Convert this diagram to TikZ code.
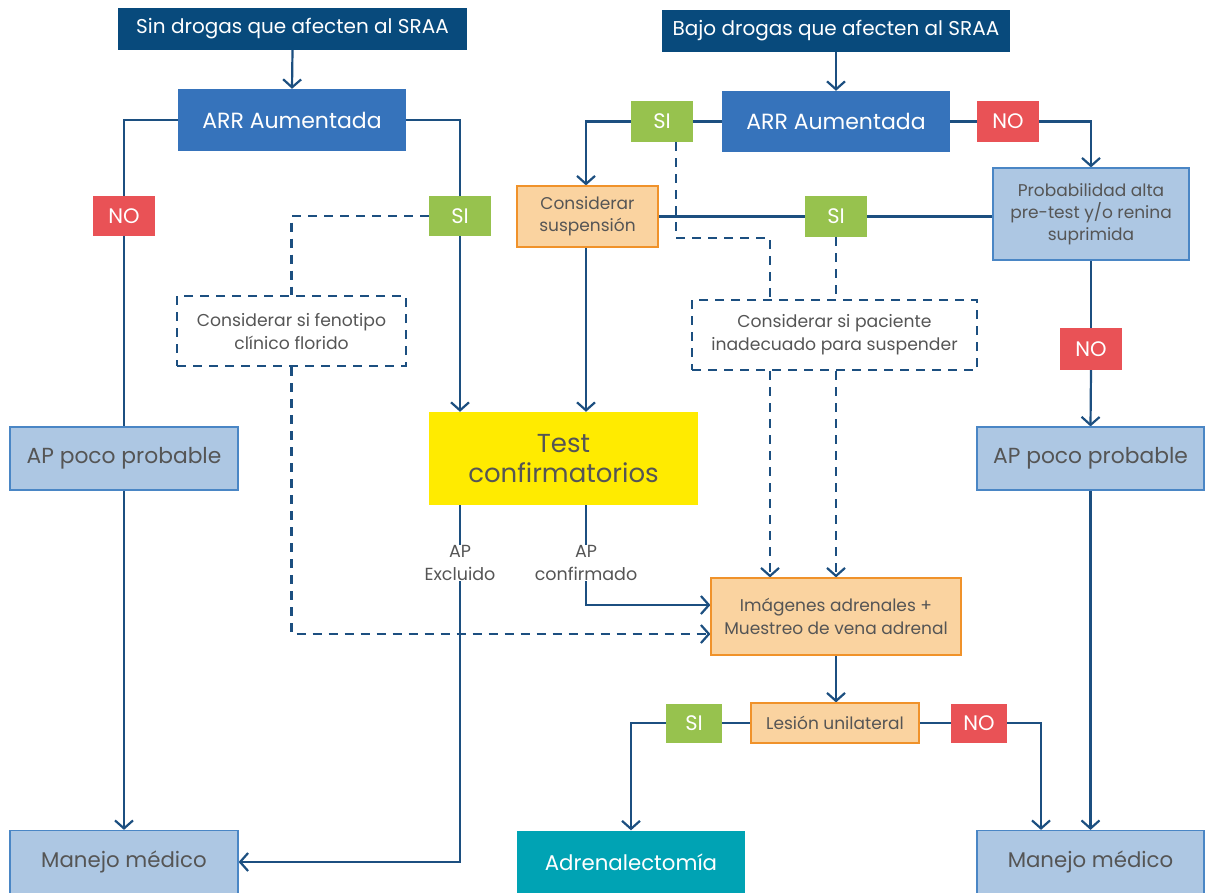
\documentclass[tikz,border=0pt]{standalone}
\usepackage{fontspec}
\setmainfont{Poppins}
\usetikzlibrary{arrows.meta,calc}
\pgfdeclarelayer{bg}
\pgfsetlayers{bg,main}
\definecolor{hdr}{RGB}{8,74,124}
\definecolor{arrblue}{RGB}{54,115,187}
\definecolor{sigreen}{RGB}{151,194,78}
\definecolor{nored}{RGB}{233,82,86}
\definecolor{lbfill}{RGB}{173,199,227}
\definecolor{lbdraw}{RGB}{74,134,197}
\definecolor{orfill}{RGB}{250,211,160}
\definecolor{ordraw}{RGB}{240,146,42}
\definecolor{yel}{RGB}{255,235,0}
\definecolor{teal2}{RGB}{0,163,180}
\definecolor{ln}{RGB}{28,79,128}
\definecolor{txt}{RGB}{85,85,85}
\newcommand{\fsz}[2]{\fontsize{#1}{#2}\selectfont}
\begin{document}
\begin{tikzpicture}[x=1pt,y=-1pt,
  base/.style={inner sep=0pt, align=center},
  hdrbox/.style={base, fill=hdr, text=white, minimum width=349, minimum height=42, font=\fsz{20}{23}},
  arrbox/.style={base, fill=arrblue, text=white, minimum width=228, minimum height=62, font=\fsz{22}{25}},
  sibox/.style={base, fill=sigreen, text=white, minimum width=62, minimum height=41, font=\fsz{21}{23}},
  nobox/.style={base, fill=nored, text=white, minimum width=62, minimum height=41, font=\fsz{21}{23}},
  lbbox/.style={base, fill=lbfill, draw=lbdraw, line width=1.2pt, text=txt},
  orbox/.style={base, fill=orfill, draw=ordraw, line width=1.2pt, text=txt},
  dbox/.style={base, draw=ln, line width=2.2pt, dash pattern=on 9pt off 7pt, text=txt, font=\fsz{17.2}{23}},
  lbl/.style={base, fill=white, text=txt, font=\fsz{17.5}{23}},
  con/.style={draw=ln, line width=2.2pt},
  dcon/.style={con, dash pattern=on 9pt off 7pt},
  arw/.style={-{Straight Barb[length=8pt,width=18pt,line width=2.2pt]}}
]
\useasboundingbox (0,0) rectangle (1205,892);
% nodes
\node[hdrbox] (h1) at (292.5,29) {Sin drogas que afecten al SRAA};
\node[hdrbox, minimum width=348] (h2) at (836,31) {Bajo drogas que afecten al SRAA};
\node[arrbox] (arrL) at (292,120) {ARR Aumentada};
\node[arrbox, minimum height=61] (arrR) at (836,121.5) {ARR Aumentada};
\node[sibox] (siR) at (662,121.5) {SI};
\node[nobox] (noR) at (1008,121.5) {NO};
\node[nobox, minimum height=40] (noL) at (124,216) {NO};
\node[sibox, minimum height=40] (siL) at (460,216) {SI};
\node[orbox, minimum width=141, minimum height=61, font=\fsz{17}{22}] (cons) at (587.5,216.5) {Considerar\\suspensión};
\node[sibox] (siM) at (836,216.5) {SI};
\node[lbbox, minimum width=196, minimum height=92, font=\fsz{17}{22}] (prob) at (1091,214) {Probabilidad alta\\pre-test y/o renina\\suprimida};
\node[dbox, minimum width=229, minimum height=70] (dashL) at (291.5,331) {Considerar si fenotipo\\clínico florido};
\node[dbox, minimum width=285, minimum height=70] (dashR) at (834.5,335) {Considerar si paciente\\inadecuado para suspender};
\node[nobox, minimum height=42] (noR2) at (1091,349) {NO};
\node[lbbox, minimum width=228, minimum height=63, font=\fsz{21.8}{25}] (apL) at (124,458.5) {AP poco probable};
\node[base, fill=yel, text=txt, minimum width=269, minimum height=93, font=\fsz{26}{30}] (test) at (563.5,458.5) {Test\\confirmatorios};
\node[lbbox, minimum width=227, minimum height=63, font=\fsz{21.8}{25}] (apR) at (1090.5,458.5) {AP poco probable};
\node[lbl] (lex) at (460,563) {AP\\Excluido};
\node[lbl] (lconf) at (586,563) {AP\\confirmado};
\node[orbox, minimum width=250, minimum height=77, font=\fsz{17}{23}] (img) at (836,616.5) {Imágenes adrenales +\\Muestreo de vena adrenal};
\node[orbox, minimum width=168, minimum height=40, font=\fsz{17}{20}] (les) at (835,723) {Lesión unilateral};
\node[sibox, minimum width=56, minimum height=39] (siB) at (694,723) {SI};
\node[nobox, minimum width=56, minimum height=39] (noB) at (979,723) {NO};
\node[lbbox, minimum width=228, minimum height=63, font=\fsz{21.3}{25}] (mmL) at (124,862) {Manejo médico};
\node[base, fill=teal2, text=white, minimum width=228, minimum height=63, font=\fsz{21.3}{25}] (adr) at (631,862) {Adrenalectomía};
\node[lbbox, minimum width=227, minimum height=63, font=\fsz{21.3}{25}] (mmR) at (1090.5,862) {Manejo médico};
% helper coordinates
\coordinate (cx) at (586,0);
\coordinate (dk) at (770,238);
\coordinate (dtop) at (676,0);
\coordinate (nx) at (1041,0);
% connectors
\begin{pgfonlayer}{bg}
\draw[con,arw] (h1.south) -- (arrL.north);
\draw[con] (arrL.west) -| (noL.north);
\draw[con] (noL.south) -- (apL.north);
\draw[con] (arrL.east) -| (siL.north);
\draw[con,arw] (siL.south) -- (siL.south |- test.north);
\draw[dcon] (siL.west) -| (dashL.north);
\draw[dcon,arw] (dashL.south) |- ($(img.west)+(0,17.5)$);
\draw[con,arw] (apL.south) -- (mmL.north);
\draw[con] (lex.north |- test.south) -- (lex.north);
\draw[con,arw] (lex.south) |- (mmL.east);
\draw[con] (lconf.north |- test.south) -- (lconf.north);
\draw[con,arw] (lconf.south) |- ($(img.west)+(0,-11.5)$);
\draw[con,arw] (h2.south) -- (arrR.north);
\draw[con] (arrR.west) -- (siR.east);
\draw[con,arw] (siR.west) -| (cx |- cons.north);
\draw[con] (arrR.east) -- (noR.west);
\draw[con,arw] (noR.east) -| (prob.north);
\draw[con] (cons.east) -- (siM.west);
\draw[con] (siM.east) -- (siM.east -| prob.west);
\draw[con,arw] (cx |- cons.south) -- (cx |- test.north);
\draw[dcon] (dtop |- siR.south) |- (dk) -- (dk |- dashR.north);
\draw[dcon] (siM.south) -- (siM.south |- dashR.north);
\draw[dcon,arw] (dk |- dashR.south) -- (dk |- img.north);
\draw[dcon,arw] (siM.south |- dashR.south) -- (siM.south |- img.north);
\draw[con] (prob.south) -- (noR2.north);
\draw[con,arw] (noR2.south) -- (apR.north);
\draw[con,arw] (apR.south) -- (mmR.north);
\draw[con,arw] (img.south) -- (img.south |- les.north);
\draw[con] (les.west) -- (siB.east);
\draw[con,arw] (siB.west) -| (adr.north);
\draw[con] (les.east) -- (noB.west);
\draw[con,arw] (noB.east) -| (nx |- mmR.north);
\end{pgfonlayer}
\end{tikzpicture}
\end{document}
